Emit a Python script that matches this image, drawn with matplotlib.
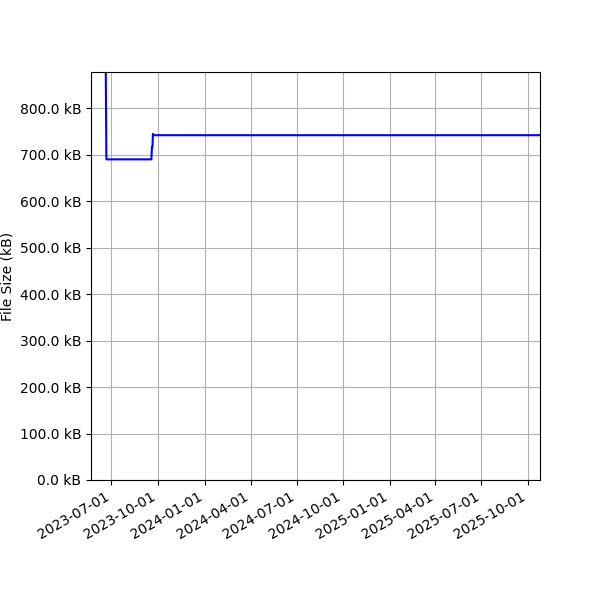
import pandas as pd
import matplotlib
matplotlib.use("Agg")
import matplotlib.pyplot as plt
import matplotlib.dates as mdates
from matplotlib.ticker import FuncFormatter

dates = ["2023-06-19", "2023-06-21", "2023-09-18", "2023-09-19", "2023-09-20",
         "2023-09-21", "2023-09-22", "2025-11-10"]
sizes_kb = [1000, 690, 690, 716, 716, 745, 742, 742]

dates = pd.to_datetime(dates)

fig, ax = plt.subplots(figsize=(6, 6), dpi=100)
ax.plot(dates, sizes_kb, color="blue", linewidth=1.5)

ax.set_ylim(0, 878)
ax.set_xlim(pd.Timestamp("2023-05-22"), pd.Timestamp("2025-10-25"))
ax.yaxis.set_major_formatter(FuncFormatter(lambda v, p: f"{v:.1f} kB"))
ax.xaxis.set_major_locator(mdates.MonthLocator(bymonth=[1, 4, 7, 10]))
ax.xaxis.set_major_formatter(mdates.DateFormatter("%Y-%m-%d"))
ax.set_ylabel("File Size (kB)")
ax.grid(True)

fig.autofmt_xdate()
fig.subplots_adjust(left=0.152, right=0.9, top=0.88, bottom=0.2)
fig.savefig("out.png", dpi=100)
